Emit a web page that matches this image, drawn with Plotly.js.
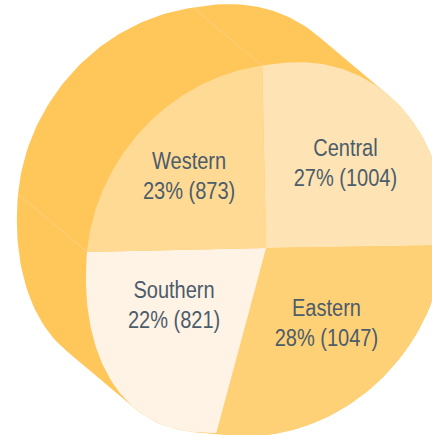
<!DOCTYPE html>
<html><head><meta charset="utf-8">
<script src="https://cdn.plot.ly/plotly-3.0.1.min.js"></script>
<style>html,body{margin:0;padding:0;background:#fff}#c{width:432px;height:435px}</style>
</head><body><div id="c"></div>
<script>
const categories = ["Central", "Eastern", "Southern", "Western"];
const values = [1004, 1047, 821, 873];
const percents = [27, 28, 22, 23];
const sliceColors = ["#FEE4B5", "#FFD177", "#FFF3E6", "#FFDA94"];
const sideColor = "#FFC65A";
const textColor = "#4B5C6B";

// camera calibration: disc angle (deg clockwise from top), radius, image point, weight
const calib = [[0,1,263,66,5],[96.5,1,445,245,5],[197.2,1,218,434,5],[276,1,87,251,5],[0,0,263.5,249,5],
 [38,1,383,87,1],[225,1,133,400,1],[306,1,120,163,1],[142,1,366,361,1]];
const rimBulge = [0.03,0,0.065,0];
const depth = [-69,-58];
const labelAt = [[345,163],[326,323],[174,305],[189,176]];
const textSqueeze = 0.87;

function solve(A,b){const n=b.length;A=A.map((r,i)=>[...r,b[i]]);
 for(let i=0;i<n;i++){let p=i;for(let k=i+1;k<n;k++)if(Math.abs(A[k][i])>Math.abs(A[p][i]))p=k;[A[i],A[p]]=[A[p],A[i]];
  for(let k=0;k<n;k++)if(k!==i){const f=A[k][i]/A[i][i];for(let j=i;j<=n;j++)A[k][j]-=f*A[i][j];}}
 return A.map((r,i)=>r[n]/r[i]);}
const uv=(t,r)=>[r*Math.sin(t*Math.PI/180),r*Math.cos(t*Math.PI/180)];
const rows=[],rhs=[];
calib.forEach(([t,r,X,Y,W])=>{const [u,v]=uv(t,r);
 rows.push([u,v,1,0,0,0,-u*X,-v*X].map(q=>q*W));rhs.push(X*W);
 rows.push([0,0,0,u,v,1,-u*Y,-v*Y].map(q=>q*W));rhs.push(Y*W);});
const ATA=Array.from({length:8},(_,i)=>Array.from({length:8},(_,j)=>rows.reduce((s,r)=>s+r[i]*r[j],0)));
const ATb=Array.from({length:8},(_,i)=>rows.reduce((s,r,k)=>s+r[i]*rhs[k],0));
const H=solve(ATA,ATb);
function project(t,r){const [u,v]=uv(t,r);const w=H[6]*u+H[7]*v+1;return [(H[0]*u+H[1]*v+H[2])/w,(H[3]*u+H[4]*v+H[5])/w];}

const total=values.reduce((a,b)=>a+b,0);
const bounds=[0];values.forEach(v=>bounds.push(bounds[bounds.length-1]+v/total*360));
function rimPoint(t){let i=bounds.findIndex((b,k)=>k<4&&t>=b&&t<=bounds[k+1]);if(i<0)i=0;
 const p=(t-bounds[i])/(bounds[i+1]-bounds[i]);
 return project(t,1+rimBulge[i]*Math.pow(Math.sin(Math.PI*Math.pow(p,0.66)),2));}

const rim=[];for(let t=0;t<360;t+=1.5)rim.push(rimPoint(t));
const back=rim.map(p=>[p[0]+depth[0],p[1]+depth[1]]);
function hull(P){P=[...P].sort((a,b)=>a[0]-b[0]||a[1]-b[1]);const c=(o,a,b)=>(a[0]-o[0])*(b[1]-o[1])-(a[1]-o[1])*(b[0]-o[0]);
 const L=[];for(const p of P){while(L.length>1&&c(L[L.length-2],L[L.length-1],p)<=0)L.pop();L.push(p);}
 const U=[];for(const p of [...P].reverse()){while(U.length>1&&c(U[U.length-2],U[U.length-1],p)<=0)U.pop();U.push(p);}
 return L.slice(0,-1).concat(U.slice(0,-1));}
const poly=(P,color)=>({type:"scatter",mode:"lines",x:P.map(p=>p[0]).concat(P[0][0]),y:P.map(p=>p[1]).concat(P[0][1]),fill:"toself",fillcolor:color,line:{width:0},hoverinfo:"skip"});

const traces=[];
traces.push(poly(hull(rim.concat(back)),sideColor));
[bounds[3],bounds[4]].forEach(t=>{const a=project(t,1);
 traces.push({type:"scatter",mode:"lines",x:[a[0],a[0]+depth[0]],y:[a[1],a[1]+depth[1]],line:{color:"#FFD48F",width:0.7},hoverinfo:"skip"});});
categories.forEach((c,i)=>{const P=[project(0,0)];const a=bounds[i],b=bounds[i+1];
 for(let k=0;k<=80;k++)P.push(rimPoint(a+(b-a)*k/80));
 const tr=poly(P,sliceColors[i]);tr.name=c;traces.push(tr);});

const annotations=categories.map((c,i)=>({x:labelAt[i][0],y:labelAt[i][1],xref:"x",yref:"y",showarrow:false,align:"center",
 text:c+"<br>"+percents[i]+"% ("+values[i]+")",font:{family:"'Liberation Sans',sans-serif",size:23,color:textColor}}));

Plotly.newPlot("c",traces,{width:432,height:435,margin:{l:0,r:0,t:0,b:0},showlegend:false,
 paper_bgcolor:"#fff",plot_bgcolor:"#fff",
 xaxis:{visible:false,range:[0,432],fixedrange:true},yaxis:{visible:false,range:[435,0],fixedrange:true},annotations},{displayModeBar:false,staticPlot:true}).then(gd=>{
 gd.querySelectorAll(".annotation-text").forEach(t=>{const b=t.getBBox();const cx=b.x+b.width/2;
  t.setAttribute("transform","translate("+cx+",0) scale("+textSqueeze+",1) translate("+(-cx)+",0)");});
});
</script></body></html>
